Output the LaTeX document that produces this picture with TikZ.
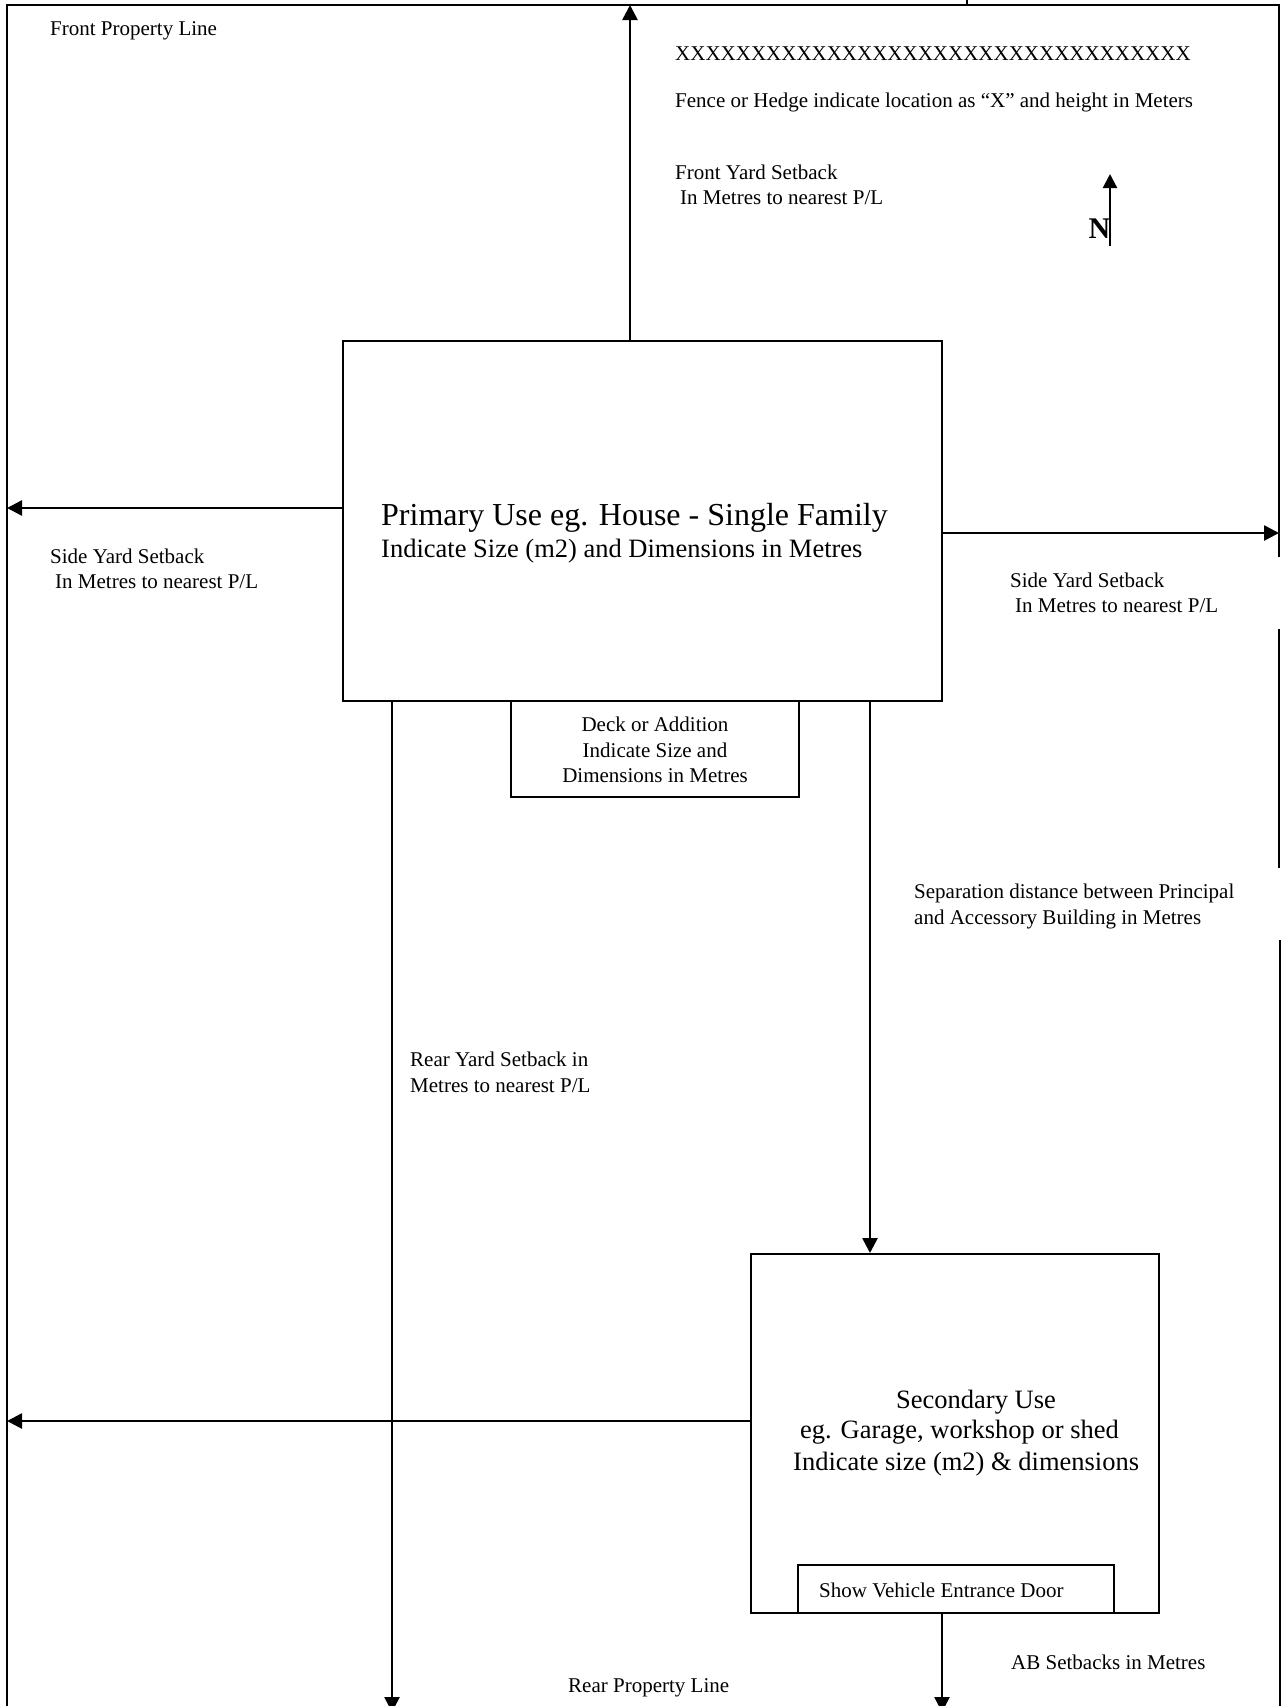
\documentclass[tikz,border=0pt]{standalone}
\usepackage{fontspec}
\setmainfont{Liberation Serif}
\usetikzlibrary{arrows.meta,calc}
\begin{document}
\begin{tikzpicture}[x=1pt,y=-1pt,
  border/.style={line width=2pt},
  bldg/.style={draw,line width=2pt,inner sep=0pt,fill=white},
  arr/.style={line width=2.6pt,-{Triangle[length=15pt,width=15pt]}},
  small/.style={inner sep=0pt,font=\fontsize{21}{25.5}\selectfont,align=left},
  medium/.style={inner sep=0pt,font=\fontsize{26.5}{31}\selectfont},
  large/.style={inner sep=0pt,font=\fontsize{32}{36}\selectfont}]
\useasboundingbox (0,0) rectangle (1282,1706);
% property lines
\draw[border] (7,1706) -- (7,5) -- (1279,5) -- (1279,557);
\draw[border] (1279,629) -- (1279,868);
\draw[border] (1280,940) -- (1280,1706);
\draw[line width=1.5pt] (967,0) -- (967,5);
% buildings
\node[bldg,minimum width=599pt,minimum height=360pt] (primary) at (642.5,521) {};
\node[bldg,minimum width=288pt,minimum height=96pt] (deck) at (655,749) {};
\node[bldg,minimum width=408pt,minimum height=359pt] (secondary) at (955,1433.5) {};
\node[bldg,minimum width=316pt,minimum height=48pt] (door) at (956,1589) {};
% coordinates for arrow ends
\coordinate (fronttip) at (630,5);
\coordinate (lefttip) at (7,508);
\coordinate (righttip) at (1279,533);
\coordinate (reartip) at (392,1712);
\coordinate (sepx) at (870,0);
\coordinate (secleft) at (7,1421);
\coordinate (abtip) at (942,1712);
\coordinate (ntail) at (1110,246);
\coordinate (nhead) at (1110,174);
% arrows
\draw[arr] (primary.north -| fronttip) -- (fronttip);
\draw[arr] (primary.west |- lefttip) -- (lefttip);
\draw[arr] (primary.east |- righttip) -- (righttip);
\draw[arr] (primary.south -| reartip) -- (reartip);
\draw[arr] (primary.south -| sepx) -- (secondary.north -| sepx);
\draw[arr] (secondary.west |- secleft) -- (secleft);
\draw[arr] (door.south -| abtip) -- (abtip);
\draw[line width=2.2pt,-{Triangle[length=14pt,width=14pt]}] (ntail) -- (nhead);
% texts
\node[small,anchor=west] (fpl) at (50,31) {Front Property Line};
\node[small,anchor=west] (xline) at (675,54) {XXXXXXXXXXXXXXXXXXXXXXXXXXXXXXXXXX};
\node[small,anchor=west] (fence) at (675,102) {Fence or Hedge indicate location as “X” and height in Meters};
\node[small,anchor=west] (fys) at (675,185) {Front Yard Setback\\\hspace*{5pt}In Metres to nearest P/L};
\node[anchor=east,inner sep=0pt,font=\fontsize{30}{34}\selectfont\bfseries] (nlabel) at (1110.5,229) {N};
\node[small,anchor=west] (lsys) at (50,569) {Side Yard Setback\\\hspace*{5pt}In Metres to nearest P/L};
\node[small,anchor=west] (rsys) at (1010,593) {Side Yard Setback\\\hspace*{5pt}In Metres to nearest P/L};
\node[large,anchor=west] (ptitle) at (381,518) {Primary Use eg. House - Single Family};
\node[medium,anchor=west] (psub) at (381,551) {Indicate Size (m2) and Dimensions in Metres};
\node[small,align=center] (decktxt) at (655,750) {Deck or Addition\\Indicate Size and\\Dimensions in Metres};
\node[small,anchor=west] (sep) at (914,906.5) {Separation distance between Principal\\and Accessory Building in Metres};
\node[small,anchor=west] (rys) at (410,1072.5) {Rear Yard Setback in\\Metres to nearest P/L};
\node[medium,anchor=west] (s1) at (896,1402.5) {Secondary Use};
\node[medium,anchor=west] (s2) at (800,1432.5) {eg. Garage, workshop or shed};
\node[medium,anchor=west] (s3) at (793,1464.5) {Indicate size (m2) \& dimensions};
\node[small,anchor=west] (doortxt) at (819,1590.5) {Show Vehicle Entrance Door};
\node[small,anchor=west] (ab) at (1011,1662.5) {AB Setbacks in Metres};
\node[small,anchor=west] (rpl) at (568,1688) {Rear Property Line};
\end{tikzpicture}
\end{document}
